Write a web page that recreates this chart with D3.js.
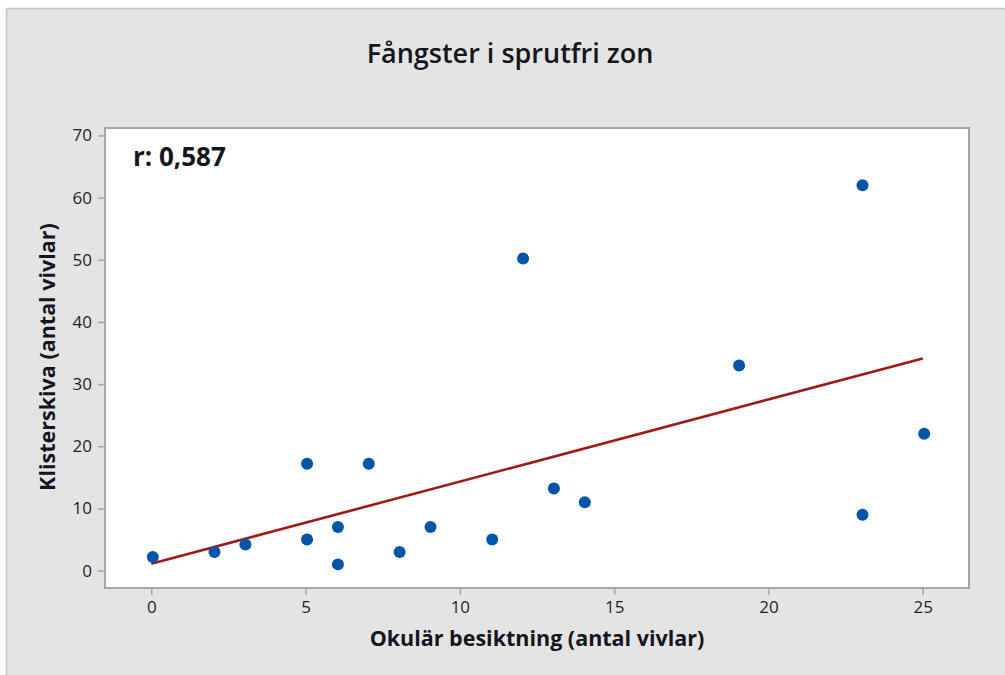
<!DOCTYPE html>
<html>
<head>
<meta charset="utf-8">
<script src="https://cdn.jsdelivr.net/npm/d3@7"></script>
<style>
  html, body { margin: 0; padding: 0; background: #ffffff; }
  svg { display: block; }
</style>
</head>
<body>
<svg id="chart" width="1005" height="675"></svg>
<script>
// Fångster i sprutfri zon: okulär besiktning vs klisterskiva
const okular = [0, 2, 3, 5, 5, 6, 6, 7, 8, 9, 11, 12, 13, 14, 19, 23, 23, 25];
const klister = [2.2, 3, 4.2, 17.2, 5, 7, 1, 17.2, 3, 7, 5, 50.2, 13.2, 11, 33, 62, 9, 22];
const xTicks = [0, 5, 10, 15, 20, 25];
const yTicks = [0, 10, 20, 30, 40, 50, 60, 70];
const titleText = "Fångster i sprutfri zon";
const xLabel = "Okulär besiktning (antal vivlar)";
const yLabel = "Klisterskiva (antal vivlar)";
const rLabel = "r: 0,587";

const W = 1005, H = 675;
const plot = { left: 105, top: 128, right: 969, bottom: 588 };
const font = "'Open Sans', 'Noto Sans', sans-serif";

const svg = d3.select("#chart");

// outer panel
svg.append("rect").attr("x", 7).attr("y", 9).attr("width", W - 7).attr("height", H - 9)
  .attr("fill", "#e4e4e4");
svg.append("line").attr("x1", 6.5).attr("x2", 6.5).attr("y1", 8).attr("y2", H)
  .attr("stroke", "#c4c4c4").attr("stroke-width", 1.5);
svg.append("line").attr("x1", 6).attr("x2", W).attr("y1", 8.5).attr("y2", 8.5)
  .attr("stroke", "#c4c4c4").attr("stroke-width", 1.5);

// data region
svg.append("rect")
  .attr("x", plot.left).attr("y", plot.top)
  .attr("width", plot.right - plot.left).attr("height", plot.bottom - plot.top)
  .attr("fill", "#ffffff").attr("stroke", "#a6a6a6").attr("stroke-width", 2);

const x = d3.scaleLinear().domain([-1.5, 26.5]).range([plot.left, plot.right]);
const y = d3.scaleLinear().domain([-2.8, 71.2]).range([plot.bottom, plot.top]);

// axes
const xAxis = svg.append("g").attr("transform", `translate(0,${plot.bottom + 1})`)
  .call(d3.axisBottom(x).tickValues(xTicks).tickSize(6).tickPadding(6).tickFormat(d3.format("d")));
const yAxis = svg.append("g").attr("transform", `translate(${plot.left - 1},0)`)
  .call(d3.axisLeft(y).tickValues(yTicks).tickSize(6).tickPadding(6).tickFormat(d3.format("d")));
[xAxis, yAxis].forEach(g => {
  g.select(".domain").remove();
  g.selectAll(".tick line").attr("stroke", "#a6a6a6").attr("stroke-width", 1.5);
  g.selectAll(".tick text").attr("fill", "#1e1e2a").style("font-family", font).style("font-size", "17px");
});

// least-squares fit line
const n = okular.length;
const mx = d3.mean(okular), my = d3.mean(klister);
let sxy = 0, sxx = 0;
for (let i = 0; i < n; i++) {
  sxy += (okular[i] - mx) * (klister[i] - my);
  sxx += (okular[i] - mx) ** 2;
}
const slope = sxy / sxx, intercept = my - slope * mx;
const xExt = d3.extent(okular);
svg.append("path")
  .datum(xExt.map(v => [v, intercept + slope * v]))
  .attr("d", d3.line().x(d => x(d[0])).y(d => y(d[1])))
  .attr("fill", "none").attr("stroke", "#a11818").attr("stroke-width", 2.6);

// points
svg.append("g").selectAll("circle")
  .data(okular.map((v, i) => [v, klister[i]]))
  .join("circle")
  .attr("cx", d => x(d[0]) + 1.5)
  .attr("cy", d => y(d[1]))
  .attr("r", 6)
  .attr("fill", "#0055a8");

// texts
svg.append("text").attr("x", 510).attr("y", 63).attr("text-anchor", "middle")
  .style("font-family", font).style("font-size", "27px").style("font-weight", 600)
  .attr("fill", "#151520").text(titleText);
svg.append("text").attr("x", 133).attr("y", 166)
  .style("font-family", font).style("font-size", "26px").style("font-weight", 700)
  .attr("fill", "#151520").text(rLabel);
svg.append("text").attr("x", 537).attr("y", 646).attr("text-anchor", "middle")
  .style("font-family", font).style("font-size", "21.5px").style("font-weight", 700)
  .attr("fill", "#151520").text(xLabel);
svg.append("text").attr("transform", "translate(55,357) rotate(-90)").attr("text-anchor", "middle")
  .style("font-family", font).style("font-size", "21.5px").style("font-weight", 700)
  .attr("fill", "#151520").text(yLabel);
</script>
</body>
</html>
